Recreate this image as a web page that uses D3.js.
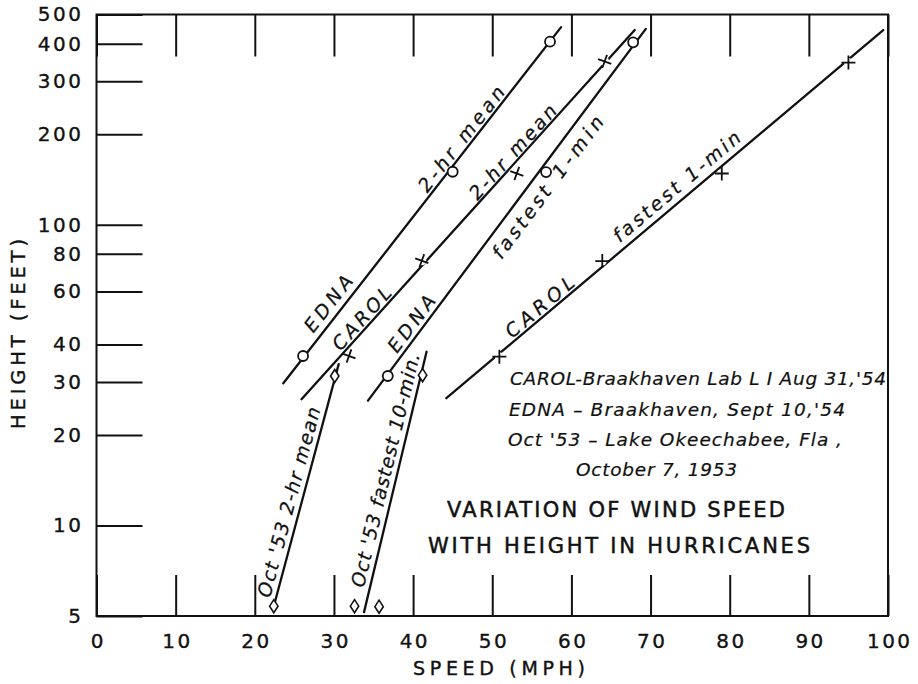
<!DOCTYPE html>
<html>
<head>
<meta charset="utf-8">
<script src="https://cdn.jsdelivr.net/npm/d3@7"></script>
<style>
  html, body { margin: 0; padding: 0; background: #fff; }
  svg { display: block; }
</style>
</head>
<body>
<svg id="chart" width="918" height="684"></svg>
<script>
// ---- axis ticks ----
const speedTicks = [0, 10, 20, 30, 40, 50, 60, 70, 80, 90, 100];
const heightTicks = [5, 10, 20, 30, 40, 60, 80, 100, 200, 300, 400, 500];

// ---- fitted wind profiles: [speed mph, height ft] at each end ----
const ednaMeanFit  = [[23.6, 29.7], [58.7, 454]];
const carolMeanFit = [[25.9, 26.3], [68.0, 444]];
const ednaGustFit  = [[34.3, 26.0], [69.4, 448]];
const carolGustFit = [[44.2, 26.5], [99.4, 444]];
const oct53MeanFit = [[22.4, 5.39], [30.6, 34.4]];
const oct53GustFit = [[33.8, 5.15], [41.7, 37.8]];

// ---- observed speeds: [speed mph, height ft] ----
const ednaMeanObs  = [[26.1, 36.6], [45.0, 150], [57.3, 406]];
const carolMeanObs = [[31.9, 36.6], [41.1, 75.9], [53.1, 148], [64.2, 349]];
const ednaGustObs  = [[36.8, 31.4], [56.8, 149.6], [67.8, 404]];
const carolGustObs = [[50.9, 36.4], [63.9, 75.7], [79.0, 148], [95.0, 346]];
const oct53MeanObs = [[22.4, 5.39], [30.1, 31.4]];
const oct53GustObs = [[32.6, 5.39], [35.7, 5.37], [41.2, 31.6]];

// ---- notes ----
const noteLines = [
  "CAROL-Braakhaven Lab L I Aug 31,'54",
  "EDNA \u2013 Braakhaven, Sept 10,'54",
  "Oct '53 \u2013 Lake Okeechabee, Fla ,",
  "October 7, 1953"
];
const titleLines = ["VARIATION OF WIND SPEED", "WITH HEIGHT IN HURRICANES"];

const INK = "#111";
const FONT = "'DejaVu Sans', Verdana, sans-serif";

const svg = d3.select("#chart");
svg.append("rect").attr("width", 918).attr("height", 684).attr("fill", "#fff");

const x = d3.scaleLinear().domain([0, 100]).range([96.5, 888]);
const y = d3.scaleLog().domain([5, 500]).range([616, 14.5]);

// plot frame
svg.append("rect")
  .attr("x", x(0)).attr("y", y(500))
  .attr("width", x(100) - x(0)).attr("height", y(5) - y(500))
  .attr("fill", "none").attr("stroke", INK).attr("stroke-width", 2);

// axes with inward ticks
const gy = svg.append("g").attr("transform", `translate(${x(0)},0)`)
  .call(d3.axisLeft(y).tickValues(heightTicks).tickFormat(d3.format("d"))
    .tickSize(-46).tickSizeOuter(0).tickPadding(13));
const gx = svg.append("g").attr("transform", `translate(0,${y(5)})`)
  .call(d3.axisBottom(x).tickValues(speedTicks).tickFormat(d3.format("d"))
    .tickSize(-41).tickSizeOuter(0).tickPadding(18));
const gt = svg.append("g").attr("transform", `translate(0,${y(500)})`)
  .call(d3.axisTop(x).tickValues(speedTicks).tickFormat("")
    .tickSize(-42).tickSizeOuter(0));

[gy, gx, gt].forEach(g => {
  g.select(".domain").remove();
  g.attr("font-family", FONT).attr("font-size", 20);
  g.selectAll(".tick line").attr("stroke", INK).attr("stroke-width", 2);
  g.selectAll(".tick text").attr("fill", INK).attr("letter-spacing", 2.5)
    .attr("stroke", INK).attr("stroke-width", 0.35);
});
gx.selectAll(".tick text").attr("dx", 1.25);

// axis titles
const pen = sel => sel.attr("font-family", FONT).attr("fill", INK)
  .attr("stroke", INK).attr("stroke-width", 0.4);
svg.append("text")
  .attr("transform", `translate(25,${334}) rotate(-90)`)
  .attr("text-anchor", "middle").attr("font-size", 19.5)
  .attr("textLength", 190).attr("lengthAdjust", "spacing")
  .call(pen)
  .text("HEIGHT (FEET)");
svg.append("text")
  .attr("x", 499).attr("y", 675)
  .attr("text-anchor", "middle").attr("font-size", 19)
  .attr("textLength", 172).attr("lengthAdjust", "spacing")
  .call(pen)
  .text("SPEED (MPH)");

// fitted lines
const fits = [ednaMeanFit, carolMeanFit, ednaGustFit, carolGustFit, oct53MeanFit, oct53GustFit];
const line = d3.line().x(d => x(d[0])).y(d => y(d[1]));
svg.append("g").selectAll("path").data(fits).join("path")
  .attr("d", line)
  .attr("fill", "none").attr("stroke", INK).attr("stroke-width", 2.3)
  .attr("stroke-linecap", "round");

// markers
const mk = svg.append("g").attr("stroke", INK).attr("stroke-width", 1.8);

function circles(data) {
  mk.append("g").selectAll("circle").data(data).join("circle")
    .attr("cx", d => x(d[0])).attr("cy", d => y(d[1])).attr("r", 5)
    .attr("fill", "#fff");
}
function crosses(data, turn) {
  const g = mk.append("g");
  g.selectAll("circle").data(data).join("circle")
    .attr("cx", d => x(d[0])).attr("cy", d => y(d[1])).attr("r", 4.5)
    .attr("fill", "#fff").attr("stroke", "none");
  g.selectAll("path").data(data).join("path")
    .attr("transform", d => `translate(${x(d[0])},${y(d[1])}) rotate(${turn})`)
    .attr("d", "M-7,0H7M0,-7V7").attr("fill", "none");
}
function diamonds(data) {
  mk.append("g").selectAll("path").data(data).join("path")
    .attr("transform", d => `translate(${x(d[0])},${y(d[1])})`)
    .attr("d", "M0,-6.5L4.2,0L0,6.5L-4.2,0Z")
    .attr("fill", "#fff").attr("stroke-width", 1.6);
}
circles(ednaMeanObs);
circles(ednaGustObs);
crosses(carolMeanObs, 20);
crosses(carolGustObs, 0);
diamonds(oct53MeanObs);
diamonds(oct53GustObs);

// labels written along the lines
function angleOf(fit) {
  const [a, b] = fit;
  return Math.atan2(y(b[1]) - y(a[1]), x(b[0]) - x(a[0])) * 180 / Math.PI;
}
const lineLabels = [
  { text: "EDNA",       fit: ednaMeanFit,  at: [29.3, 54.7], len: 66 },
  { text: "2-hr mean",  fit: ednaMeanFit,  at: [46.1, 192.8], len: 128 },
  { text: "CAROL",      fit: carolMeanFit, at: [33.5, 48.8], len: 78 },
  { text: "2-hr mean",  fit: carolMeanFit, at: [52.6, 174.5], len: 120 },
  { text: "EDNA",       fit: ednaGustFit,  at: [39.8, 46.9], len: 66 },
  { text: "fastest",    fit: ednaGustFit,  at: [53.7, 102], len: 85 },
  { text: "1-min",      fit: ednaGustFit,  at: [60.8, 181.3], len: 72 },
  { text: "CAROL",      fit: carolGustFit, at: [56.0, 53.3], len: 84 },
  { text: "fastest 1-min", fit: carolGustFit, at: [73.3, 134], len: 160 },
  { text: "Oct '53 2-hr mean", fit: oct53MeanFit, at: [24.3, 11.96], len: 196 },
  { text: "Oct '53 fastest 10-min.", fit: oct53GustFit, at: [36.5, 15.3], len: 240 }
];
svg.append("g").selectAll("text").data(lineLabels).join("text")
  .attr("transform", d => `translate(${x(d.at[0])},${y(d.at[1])}) rotate(${angleOf(d.fit)})`)
  .attr("dy", "0.35em")
  .attr("text-anchor", "middle")
  .attr("font-style", "italic").attr("font-size", 19)
  .attr("textLength", d => d.len).attr("lengthAdjust", "spacing")
  .call(pen).attr("stroke-width", 0.25)
  .text(d => d.text);

// notes
const notePos = [
  { x: 510, y: 385, len: 376 },
  { x: 509, y: 416, len: 336 },
  { x: 508, y: 446, len: 334 },
  { x: 576, y: 476, len: 161 }
];
svg.append("g").selectAll("text").data(noteLines).join("text")
  .attr("x", (d, i) => notePos[i].x).attr("y", (d, i) => notePos[i].y)
  .attr("font-style", "italic").attr("font-size", 18.5)
  .attr("textLength", (d, i) => notePos[i].len).attr("lengthAdjust", "spacing")
  .call(pen).attr("stroke-width", 0.2)
  .text(d => d);

// title
const titlePos = [{ x: 616, y: 517, len: 338 }, { x: 619, y: 553, len: 382 }];
svg.append("g").selectAll("text").data(titleLines).join("text")
  .attr("x", (d, i) => titlePos[i].x).attr("y", (d, i) => titlePos[i].y)
  .attr("text-anchor", "middle").attr("font-size", 21)
  .attr("textLength", (d, i) => titlePos[i].len).attr("lengthAdjust", "spacing")
  .call(pen).attr("stroke-width", 0.5)
  .text(d => d);
</script>
</body>
</html>
